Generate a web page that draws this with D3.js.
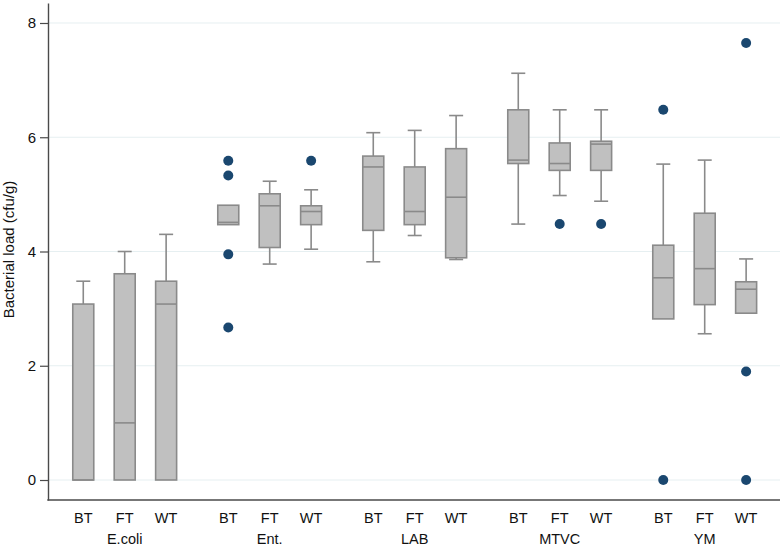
<!DOCTYPE html>
<html>
<head>
<meta charset="utf-8">
<script src="https://cdn.jsdelivr.net/npm/d3@7"></script>
<style>
  html, body { margin: 0; padding: 0; background: #fff; }
  svg { display: block; font-family: "Liberation Sans", Arial, Helvetica, sans-serif; }
</style>
</head>
<body>
<svg id="chart" width="783" height="555"></svg>
<script>
// ---- data ----
const groups = ["E.coli", "Ent.", "LAB", "MTVC", "YM"];
const subgroups = ["BT", "FT", "WT"];
const yTicks = [0, 2, 4, 6, 8];
const yTitle = "Bacterial load (cfu/g)";

// per group, per subgroup (BT, FT, WT)
const whiskerLow = [
  [0, 0, 0],
  [4.47, 3.78, 4.04],
  [3.82, 4.28, 3.86],
  [4.48, 4.98, 4.88],
  [2.82, 2.56, 2.92]
];
const q1 = [
  [0, 0, 0],
  [4.47, 4.07, 4.47],
  [4.37, 4.47, 3.89],
  [5.54, 5.42, 5.42],
  [2.82, 3.07, 2.92]
];
const median = [
  [0, 1.0, 3.08],
  [4.51, 4.80, 4.70],
  [5.48, 4.70, 4.95],
  [5.60, 5.54, 5.88],
  [3.54, 3.70, 3.34]
];
const q3 = [
  [3.08, 3.61, 3.48],
  [4.81, 5.01, 4.80],
  [5.67, 5.48, 5.80],
  [6.48, 5.90, 5.93],
  [4.11, 4.67, 3.47]
];
const whiskerHigh = [
  [3.48, 4.00, 4.30],
  [4.81, 5.23, 5.08],
  [6.08, 6.12, 6.38],
  [7.12, 6.48, 6.48],
  [5.53, 5.60, 3.87]
];
const outliers = [
  [[], [], []],
  [[5.59, 5.33, 3.95, 2.67], [], [5.59]],
  [[], [], []],
  [[], [4.48], [4.48]],
  [[6.48, 0], [], [7.65, 1.90, 0]]
];

// ---- layout ----
const svg = d3.select("#chart");
const plotLeft = 48, plotRight = 780, plotTop = 3, plotBottom = 500;
const boxW = 21, capW = 14;
const boxFill = "#c0c0c0", boxStroke = "#8a8a8a", dotColor = "#1a476f";

const y = d3.scaleLinear().domain([-0.35, 8.35]).range([plotBottom, plotTop]);
const xGroup = d3.scaleBand().domain(groups).range([52.2, 777.2]).padding(0);
const xSub = d3.scalePoint().domain(subgroups).range([0, xGroup.bandwidth()]).padding(0.75);

// gridlines
svg.append("g").selectAll("line").data(yTicks).join("line")
  .attr("x1", plotLeft).attr("x2", plotRight)
  .attr("y1", d => y(d)).attr("y2", d => y(d))
  .attr("stroke", "#e6eff1").attr("stroke-width", 1);

// boxes
const records = [];
groups.forEach((g, gi) => subgroups.forEach((s, si) => {
  records.push({g, s, lo: whiskerLow[gi][si], q1: q1[gi][si], med: median[gi][si],
    q3: q3[gi][si], hi: whiskerHigh[gi][si], out: outliers[gi][si]});
}));
const cx = d => xGroup(d.g) + xSub(d.s);

const bx = svg.append("g").selectAll("g").data(records).join("g");
// whiskers
bx.filter(d => d.hi > d.q3).append("line")
  .attr("x1", cx).attr("x2", cx).attr("y1", d => y(d.q3)).attr("y2", d => y(d.hi))
  .attr("stroke", boxStroke).attr("stroke-width", 1.6);
bx.filter(d => d.hi > d.q3).append("line")
  .attr("x1", d => cx(d) - capW / 2).attr("x2", d => cx(d) + capW / 2)
  .attr("y1", d => y(d.hi)).attr("y2", d => y(d.hi))
  .attr("stroke", boxStroke).attr("stroke-width", 1.6);
bx.filter(d => d.lo < d.q1).append("line")
  .attr("x1", cx).attr("x2", cx).attr("y1", d => y(d.q1)).attr("y2", d => y(d.lo))
  .attr("stroke", boxStroke).attr("stroke-width", 1.6);
bx.filter(d => d.lo < d.q1).append("line")
  .attr("x1", d => cx(d) - capW / 2).attr("x2", d => cx(d) + capW / 2)
  .attr("y1", d => y(d.lo)).attr("y2", d => y(d.lo))
  .attr("stroke", boxStroke).attr("stroke-width", 1.6);
// box
bx.append("rect")
  .attr("x", d => cx(d) - boxW / 2).attr("width", boxW)
  .attr("y", d => y(d.q3)).attr("height", d => y(d.q1) - y(d.q3))
  .attr("fill", boxFill).attr("stroke", boxStroke).attr("stroke-width", 1.6);
// median
bx.append("line")
  .attr("x1", d => cx(d) - boxW / 2).attr("x2", d => cx(d) + boxW / 2)
  .attr("y1", d => y(d.med)).attr("y2", d => y(d.med))
  .attr("stroke", boxStroke).attr("stroke-width", 1.6);
// outliers
bx.selectAll("circle").data(d => d.out.map(v => ({v, x: cx(d)}))).join("circle")
  .attr("cx", d => d.x).attr("cy", d => y(d.v)).attr("r", 5)
  .attr("fill", dotColor);

// y axis
const yAxis = svg.append("g").attr("transform", `translate(${plotLeft},0)`)
  .call(d3.axisLeft(y).tickValues(yTicks).tickSize(8).tickSizeOuter(0).tickPadding(4));
yAxis.select(".domain").attr("stroke", "#4a4a4a").attr("stroke-width", 1.4);
yAxis.selectAll(".tick line").attr("stroke", "#4a4a4a").attr("stroke-width", 1.2);
yAxis.selectAll(".tick text").attr("font-size", 15).attr("fill", "#111")
  .attr("font-family", "'Liberation Sans', Arial, sans-serif");

// x axis line
svg.append("line").attr("x1", plotLeft - 0.7).attr("x2", plotRight)
  .attr("y1", plotBottom).attr("y2", plotBottom)
  .attr("stroke", "#4a4a4a").attr("stroke-width", 1.4);

// sub labels
svg.append("g").selectAll("text").data(records).join("text")
  .attr("x", cx).attr("y", 523).attr("text-anchor", "middle")
  .attr("font-size", 14.5).attr("fill", "#111").text(d => d.s);
// group labels
svg.append("g").selectAll("text").data(groups).join("text")
  .attr("x", d => xGroup(d) + xGroup.bandwidth() / 2).attr("y", 544)
  .attr("text-anchor", "middle").attr("font-size", 14.5).attr("fill", "#111").text(d => d);

// y title
svg.append("text").attr("transform", `translate(14,${(plotTop + plotBottom) / 2 - 2}) rotate(-90)`)
  .attr("text-anchor", "middle").attr("font-size", 15).attr("fill", "#111").text(yTitle);
</script>
</body>
</html>
